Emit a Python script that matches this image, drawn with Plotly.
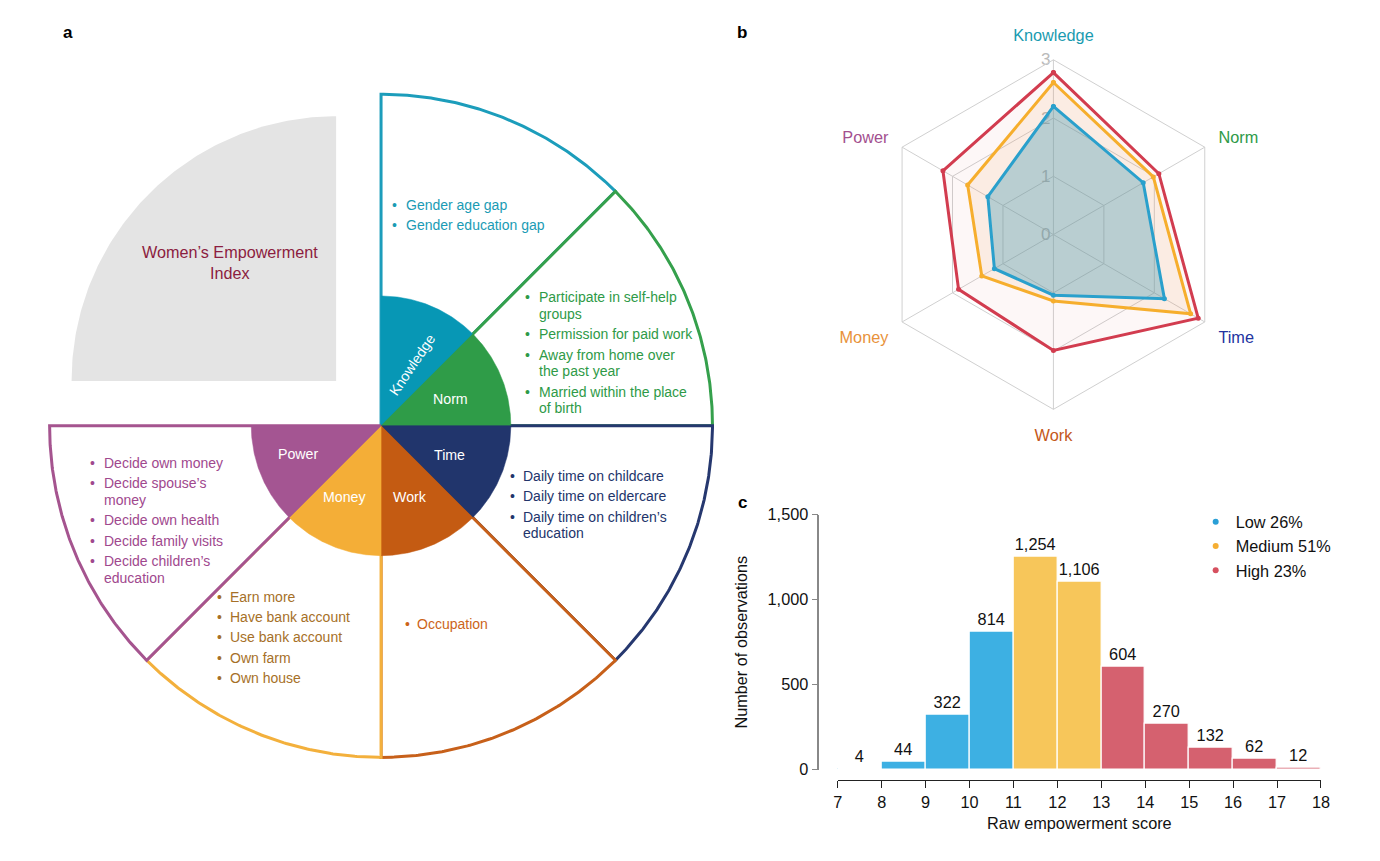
import numpy as np
import plotly.graph_objects as go

# ---------------- Panel a : index structure ----------------
sectors = ["Knowledge", "Norm", "Time", "Work", "Money", "Power"]
sector_start = [90, 45, 0, -45, -90, -135]      # degrees (math convention)
sector_end = [45, 0, -45, -90, -135, -180]
sector_fill = ["#0797b5", "#2f9c48", "#21356c", "#c45b12", "#f4ae37", "#a45592"]
sector_line = ["#1c9dbb", "#35a04c", "#26386f", "#c7601a", "#f3b03c", "#a5548f"]
sector_text = ["#1a9bb4", "#2e9a47", "#22346b", "#cc6419", "#a67028", "#a0488e"]
sector_items = [
    [["Gender age gap"], ["Gender education gap"]],
    [["Participate in self-help", "groups"], ["Permission for paid work"],
     ["Away from home over", "the past year"], ["Married within the place", "of birth"]],
    [["Daily time on childcare"], ["Daily time on eldercare"],
     ["Daily time on children’s", "education"]],
    [["Occupation"]],
    [["Earn more"], ["Have bank account"], ["Use bank account"], ["Own farm"], ["Own house"]],
    [["Decide own money"], ["Decide spouse’s", "money"], ["Decide own health"],
     ["Decide family visits"], ["Decide children’s", "education"]],
]
index_label = "Women’s Empowerment<br>Index"

# ---------------- Panel b : radar ----------------
radar_axes = ["Knowledge", "Norm", "Time", "Work", "Money", "Power"]
radar_axis_colors = ["#1a9bb0", "#2e9a48", "#2233a0", "#c4581a", "#e8923a", "#a3508f"]
radar_low = [2.20, 1.78, 2.20, 1.04, 1.17, 1.30]
radar_medium = [2.61, 1.98, 2.72, 1.14, 1.42, 1.70]
radar_high = [2.78, 2.09, 2.87, 1.99, 1.88, 2.19]
radar_ticks = [0, 1, 2, 3]

# ---------------- Panel c : histogram ----------------
score_left = [7, 8, 9, 10, 11, 12, 13, 14, 15, 16, 17]
observations = [4, 44, 322, 814, 1254, 1106, 604, 270, 132, 62, 12]
score_class = ["Low"] * 4 + ["Medium"] * 2 + ["High"] * 5
class_names = ["Low", "Medium", "High"]
class_share = ["26%", "51%", "23%"]
class_bar_colors = ["#3db0e3", "#f7c65a", "#d5616f"]
class_dot_colors = ["#2a9fd6", "#f5ae33", "#d6505f"]
x_ticks = list(range(7, 19))
y_ticks = [0, 500, 1000, 1500]
y_ticktext = ["0", "500", "1,000", "1,500"]

# ---------------- layout constants ----------------
OFF = 8                      # page body margin
FW, FH = 1380 - 2 * OFF, 861 - 2 * OFF
SX, BX, SY, BY = 0.9914, 2.4, 0.980, 7.8   # calibration of page -> picture
FONT = "Liberation Sans, Arial, sans-serif"
CX, CY, R_OUT, R_IN = 379, 425, 332, 130
GX, GY, R_GRAY = 334, 380, 265
# bullet x, text x, first line y for each sector's list
text_pos = {"Knowledge": (392, 402, 204), "Norm": (526, 535, 296), "Time": (511, 519, 475),
            "Work": (405, 413, 623), "Money": (217, 226, 596), "Power": (90, 99, 462)}
label_pos = {"Knowledge": (410, 364, -56), "Norm": (449, 398, 0), "Time": (448, 454, 0),
             "Work": (408, 496, 0), "Money": (342, 496, 0), "Power": (296, 453, 0)}
WRAP_STEP, ITEM_STEP = 16.8, 20.4
A_DOM = 0.535
RADAR_C, RADAR_R = (1052.5, 233.5), 175


def fx(x):
    return (x - BX) / SX - OFF


def fy(y):
    return (y - BY) / SY - OFF


def px(x):
    return fx(x) / FW


def py(y):
    return 1 - fy(y) / FH


def wedge(cx, cy, r, a0, a1, n=120):
    t = np.radians(np.linspace(a0, a1, n))
    xs = np.concatenate([[cx], cx + r * np.cos(t), [cx]])
    ys = np.concatenate([[cy], cy - r * np.sin(t), [cy]])
    return xs, ys


fig = go.Figure()

# gray index quadrant
gx, gy = wedge(GX, GY, R_GRAY, 90, 180)
fig.add_trace(go.Scatter(x=gx, y=gy, mode="lines", fill="toself", fillcolor="#e4e4e4",
                         line=dict(width=0, color="#e4e4e4"), hoverinfo="skip",
                         showlegend=False, xaxis="x", yaxis="y"))
# outer outlined sectors
for s, a0, a1, lc in zip(sectors, sector_start, sector_end, sector_line):
    xs, ys = wedge(CX, CY, R_OUT, a0, a1)
    fig.add_trace(go.Scatter(x=xs, y=ys, mode="lines", fill="toself", fillcolor="white",
                             line=dict(width=3, color=lc), hoverinfo="skip",
                             showlegend=False, xaxis="x", yaxis="y", name=s))
# inner filled sectors
for s, a0, a1, fc in zip(sectors, sector_start, sector_end, sector_fill):
    xs, ys = wedge(CX, CY, R_IN, a0, a1)
    fig.add_trace(go.Scatter(x=xs, y=ys, mode="lines", fill="toself", fillcolor=fc,
                             line=dict(width=0.5, color=fc), hoverinfo="skip",
                             showlegend=False, xaxis="x", yaxis="y", name=s))

annotations = []
for s, items, tc in zip(sectors, sector_items, sector_text):
    bx, tx, y = text_pos[s]
    for item in items:
        for k, line in enumerate(item):
            if k == 0:
                annotations.append(dict(x=bx, y=y, xref="x", yref="y", text="•", showarrow=False,
                                        xanchor="center", yanchor="middle",
                                        font=dict(family=FONT, size=14, color=tc)))
            annotations.append(dict(x=tx, y=y, xref="x", yref="y", text=line, showarrow=False,
                                    xanchor="left", yanchor="middle",
                                    font=dict(family=FONT, size=14, color=tc)))
            y += WRAP_STEP if k < len(item) - 1 else 0
        y += ITEM_STEP
for s in sectors:
    lx, ly, ang = label_pos[s]
    annotations.append(dict(x=lx, y=ly, xref="x", yref="y", text=s, showarrow=False,
                            textangle=ang, xanchor="center", yanchor="middle",
                            font=dict(family=FONT, size=14.2, color="white")))
annotations.append(dict(x=228, y=261, xref="x", yref="y", text=index_label, showarrow=False,
                        align="center", xanchor="center", yanchor="middle",
                        font=dict(family=FONT, size=16.2, color="#8c1d40")))

# ---------------- radar traces ----------------
theta_closed = radar_axes + radar_axes[:1]
for name, vals, lc, fc in [("High", radar_high, "#d23c4f", "rgba(225,90,90,0.05)"),
                           ("Medium", radar_medium, "#f6ae2d", "rgba(240,160,90,0.13)"),
                           ("Low", radar_low, "#2aa0cc", "rgba(60,150,175,0.34)")]:
    fig.add_trace(go.Scatterpolar(r=vals + vals[:1], theta=theta_closed, mode="lines+markers",
                                  fill="toself", fillcolor=fc, line=dict(color=lc, width=3),
                                  marker=dict(size=5, color=lc), name=name, showlegend=False,
                                  subplot="polar"))

# ---------------- histogram ----------------
for cname, bc in zip(class_names, class_bar_colors):
    idx = [i for i, c in enumerate(score_class) if c == cname]
    fig.add_trace(go.Bar(x=[score_left[i] + 0.5 for i in idx], y=[observations[i] for i in idx],
                         width=1, marker=dict(color=bc, line=dict(color="white", width=1.2)),
                         text=[f"{observations[i]:,}" for i in idx], textposition="outside",
                         textfont=dict(family=FONT, size=16.3, color="#111"), cliponaxis=False,
                         showlegend=False, xaxis="x2", yaxis="y2", name=cname))
for cname, share, dc in zip(class_names, class_share, class_dot_colors):
    fig.add_trace(go.Scatter(x=[None], y=[None], mode="markers", name=f"{cname} {share}",
                             marker=dict(color=dc, size=6), xaxis="x2", yaxis="y2"))

for txt, lx, ly in [("a", 65, 31), ("b", 741, 31), ("c", 741, 502)]:
    annotations.append(dict(x=px(lx), y=py(ly), xref="paper", yref="paper",
                            text=f"<b>{txt}</b>", showarrow=False,
                            xanchor="center", yanchor="middle",
                            font=dict(family=FONT, size=17, color="black")))

# radar domain (square in page pixels)
rcx, rcy = fx(RADAR_C[0]), fy(RADAR_C[1])
rhalf = RADAR_R / SY

fig.update_layout(
    width=FW, height=FH, margin=dict(l=0, r=0, t=0, b=0),
    paper_bgcolor="white", plot_bgcolor="white",
    font=dict(family=FONT, size=16.3, color="#111"),
    xaxis=dict(domain=[0, A_DOM], range=[SX * OFF + BX, SX * (A_DOM * FW + OFF) + BX],
               visible=False, fixedrange=True),
    yaxis=dict(domain=[0, 1], range=[SY * (FH + OFF) + BY, SY * OFF + BY],
               visible=False, fixedrange=True),
    xaxis2=dict(domain=[px(836.5), px(1320.5)], range=[7, 18], anchor="free", position=py(780),
                tickvals=x_ticks, ticks="outside", ticklen=7, tickcolor="#222",
                showline=True, linecolor="#222", linewidth=1.2, showgrid=False, zeroline=False,
                tickfont=dict(size=16.3), title=dict(text="Raw empowerment score", standoff=7,
                                                     font=dict(size=16.3))),
    yaxis2=dict(domain=[py(769.3), py(514)], range=[0, 1500], anchor="free",
                position=px(817), tickvals=y_ticks, ticktext=y_ticktext, ticks="outside",
                ticklen=6, tickcolor="#888", showline=True, linecolor="#888", linewidth=1.5,
                showgrid=False, zeroline=False, tickfont=dict(size=16.3),
                title=dict(text="Number of observations", standoff=15, font=dict(size=16.3))),
    polar=dict(
        domain=dict(x=[(rcx - rhalf) / FW, (rcx + rhalf) / FW],
                    y=[1 - (rcy + rhalf) / FH, 1 - (rcy - rhalf) / FH]),
        bgcolor="white", gridshape="linear",
        radialaxis=dict(range=[0, 3], tickvals=radar_ticks, angle=90, tickangle=90,
                        side="counterclockwise", showline=False, gridcolor="#d0d0d0", ticks="",
                        layer="below traces", tickfont=dict(size=17, color="#bababa")),
        angularaxis=dict(direction="clockwise", rotation=90, gridcolor="#d0d0d0",
                         linecolor="#d0d0d0", ticks="outside", ticklen=12,
                         tickcolor="rgba(0,0,0,0)", tickvals=radar_axes,
                         ticktext=[f'<span style="color:{c}">{a}</span>'
                                   for a, c in zip(radar_axes, radar_axis_colors)],
                         tickfont=dict(size=16.3)),
    ),
    legend=dict(x=px(1195), y=py(504), xanchor="left", yanchor="top",
                font=dict(size=16.3, color="#111"), bgcolor="rgba(0,0,0,0)",
                itemwidth=30, tracegroupgap=0),
    annotations=annotations,
    bargap=0,
)

fig.write_html("out.html")
